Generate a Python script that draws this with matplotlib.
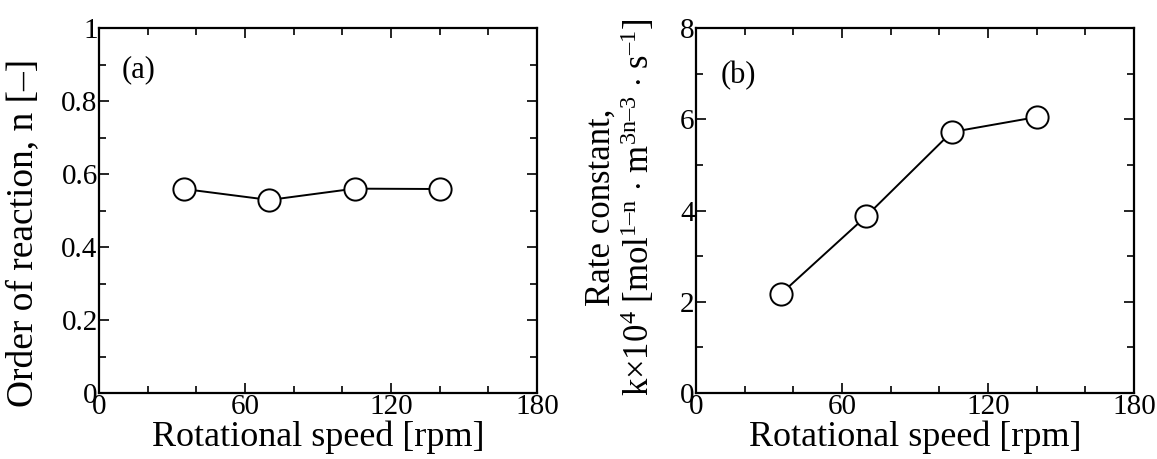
import matplotlib
matplotlib.use("Agg")
import matplotlib.pyplot as plt
from matplotlib.ticker import MultipleLocator, FuncFormatter

speed = [35, 70, 105, 140]
order_n = [0.559, 0.529, 0.560, 0.559]
rate_k = [2.18, 3.88, 5.72, 6.05]

plt.rcParams['font.family'] = ['Liberation Serif', 'DejaVu Serif']
plt.rcParams['mathtext.fontset'] = 'custom'
plt.rcParams['mathtext.rm'] = 'Liberation Serif'
plt.rcParams['mathtext.it'] = 'Liberation Serif:italic'
plt.rcParams['mathtext.bf'] = 'Liberation Serif:bold'

fig = plt.figure(figsize=(11.57, 4.59), dpi=100)
axa = fig.add_axes([0.0856, 0.1438, 0.3786, 0.795])
axb = fig.add_axes([0.6016, 0.1438, 0.3786, 0.795])

fs = 21
for ax in (axa, axb):
    ax.set_xlim(0, 180)
    ax.xaxis.set_major_locator(MultipleLocator(60))
    ax.xaxis.set_minor_locator(MultipleLocator(20))
    ax.tick_params(which='both', direction='in', top=True, right=True, width=1.2, labelsize=fs)
    ax.tick_params(axis='x', which='both', pad=1)
    ax.tick_params(axis='y', which='both', pad=1)
    ax.tick_params(which='major', length=7)
    ax.tick_params(which='minor', length=5)
    for s in ax.spines.values():
        s.set_linewidth(1.6)
    ax.set_xlabel('Rotational speed [rpm]', fontsize=26, labelpad=0)

axa.plot(speed, order_n, '-o', color='black', lw=1.4, ms=16, mfc='white', mec='black', mew=1.4)
axa.set_ylim(0, 1)
axa.yaxis.set_major_locator(MultipleLocator(0.2))
axa.yaxis.set_minor_locator(MultipleLocator(0.1))
axa.yaxis.set_major_formatter(FuncFormatter(lambda v, p: '%g' % round(v, 1)))
axa.set_ylabel('Order of reaction, n [–]', fontsize=27)
axa.yaxis.set_label_coords(-0.135, 0.44)
axa.text(0.052, 0.885, '(a)', transform=axa.transAxes, fontsize=22, va='center')

axb.plot(speed, rate_k, '-o', color='black', lw=1.4, ms=16, mfc='white', mec='black', mew=1.4)
axb.set_ylim(0, 8)
axb.yaxis.set_major_locator(MultipleLocator(2))
axb.yaxis.set_minor_locator(MultipleLocator(1))
axb.set_ylabel('Rate constant,\n' + r'k$\times$10$^{4}$ [mol$^{\text{1–n}}$ $\cdot$ m$^{\text{3n–3}}$ $\cdot$ s$^{\text{–1}}$]',
               fontsize=25, linespacing=1.05)
axb.yaxis.set_label_coords(-0.09, 0.51)
axb.text(0.055, 0.87, '(b)', transform=axb.transAxes, fontsize=22, va='center')

fig.savefig('out.png', dpi=100)
